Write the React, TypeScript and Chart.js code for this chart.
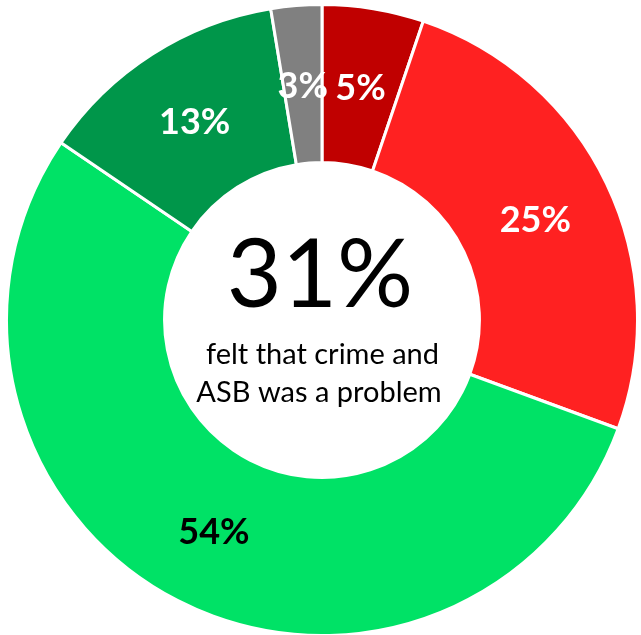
import React, { useEffect, useRef } from "react";
import { Chart, registerables } from "chart.js";

Chart.register(...registerables);

const categories = [
  "Very big problem",
  "Fairly big problem",
  "Not a very big problem",
  "Not a problem at all",
  "Don't know",
];
const values = [5.2, 25.4, 53.9, 12.9, 2.6];
const valueLabels = ["5%", "25%", "54%", "13%", "3%"];
const colors = ["#C00000", "#FF2121", "#00E266", "#00964A", "#808080"];
const labelColors = ["#FFFFFF", "#FFFFFF", "#000000", "#FFFFFF", "#FFFFFF"];
const centerValue = "31%";
const centerLines = ["felt that crime and", "ASB was a problem"];

const FONT = "Lato, 'Open Sans', sans-serif";

const labelsPlugin = {
  id: "segLabels",
  afterDatasetsDraw(chart: any) {
    const ctx = chart.ctx;
    const meta = chart.getDatasetMeta(0);
    if (!meta || !meta.data.length) return;
    ctx.save();
    ctx.textAlign = "center";
    ctx.textBaseline = "middle";
    ctx.font = `bold 36px ${FONT}`;
    meta.data.forEach((arc: any, i: number) => {
      const p = arc.tooltipPosition(false);
      ctx.fillStyle = labelColors[i];
      ctx.fillText(valueLabels[i], p.x, p.y + 2);
    });
    const cx = meta.data[0].x;
    const cy = meta.data[0].y;
    ctx.textBaseline = "alphabetic";
    ctx.fillStyle = "#000000";
    ctx.font = `95px ${FONT}`;
    ctx.fillText(centerValue, cx - 2, cy - 13);
    ctx.font = `29px ${FONT}`;
    ctx.fillText(centerLines[0], cx + 0.5, cy + 44);
    ctx.fillText(centerLines[1], cx - 3, cy + 82);
    ctx.restore();
  },
};

export default function App() {
  const ref = useRef<HTMLCanvasElement | null>(null);
  useEffect(() => {
    document.body.style.margin = "0";
    if (!ref.current) return;
    const chart = new Chart(ref.current, {
      type: "doughnut",
      data: {
        labels: categories,
        datasets: [
          {
            data: values,
            backgroundColor: colors,
            borderColor: "#FFFFFF",
            borderWidth: 3,
            hoverOffset: 0,
            clip: false,
          } as any,
        ],
      },
      options: {
        responsive: false,
        animation: false,
        radius: 315.5,
        cutout: "49.9%",
        layout: { padding: { left: 3, top: 5, right: 0, bottom: 0 } },
        plugins: {
          legend: { display: false },
          tooltip: { enabled: false },
          title: { display: false },
        },
      } as any,
      plugins: [labelsPlugin],
    });
    return () => chart.destroy();
  }, []);
  return (
    <canvas
      ref={ref}
      width={641}
      height={635}
      style={{ display: "block", width: 641, height: 635 }}
    />
  );
}
